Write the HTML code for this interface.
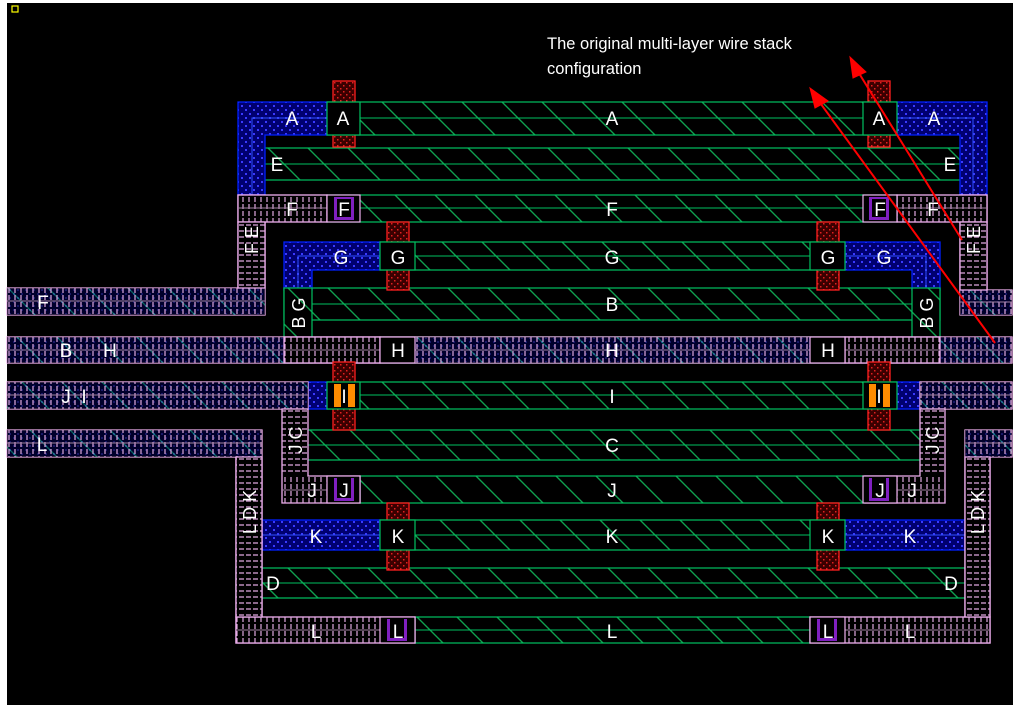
<!DOCTYPE html>
<html><head><meta charset="utf-8"><style>
html,body{margin:0;padding:0;background:#fff;width:1013px;height:715px;overflow:hidden}
svg{display:block}
text{font-family:"Liberation Sans",sans-serif;fill:#fff}
</style></head><body>
<svg width="1013" height="715" viewBox="0 0 1013 715" xmlns="http://www.w3.org/2000/svg">
<defs>
<pattern id="hat" width="40" height="40" patternUnits="userSpaceOnUse">
<rect width="40" height="40" fill="#000"/>
<path d="M0 0L40 40M-20 20L20 60M20 -20L60 20" stroke="#10a050" stroke-width="1.4"/>
</pattern>
<pattern id="blu" width="8" height="8" patternUnits="userSpaceOnUse">
<rect width="8" height="8" fill="#000070"/>
<rect x="1" y="1" width="2" height="2" fill="#3a3aff"/><rect x="5" y="5" width="2" height="2" fill="#3a3aff"/>
</pattern>
<pattern id="red" width="6" height="6" patternUnits="userSpaceOnUse">
<rect width="6" height="6" fill="#3a0000"/>
<rect x="1" y="1" width="1.5" height="1.5" fill="#e02020"/><rect x="4" y="4" width="1.5" height="1.5" fill="#e02020"/>
</pattern>
<pattern id="pnk" width="12" height="14" patternUnits="userSpaceOnUse">
<path d="M3 1v5M3 8v5M9 1v5M9 8v5" stroke="#e0a8e0" stroke-width="1.2"/>
</pattern>
<pattern id="pnkv" width="14" height="12" patternUnits="userSpaceOnUse">
<path d="M1 3h5M8 3h5M1 9h5M8 9h5" stroke="#e0a8e0" stroke-width="1.2"/>
</pattern>
</defs>
<rect x="7" y="3" width="1006" height="702" fill="#000"/>
<rect x="12" y="6" width="6" height="6" fill="none" stroke="#ff0" stroke-width="1.2"/>

<g fill="url(#hat)" stroke="#00c060" stroke-width="1.2">
<rect x="327" y="102" width="570" height="33"/>
<rect x="238" y="148" width="749" height="32"/>
<rect x="327" y="195" width="570" height="27"/>
<rect x="380" y="242" width="465" height="28"/>
<rect x="284" y="288" width="656" height="32"/>
<rect x="380" y="337" width="465" height="26"/>
<rect x="327" y="382" width="570" height="27"/>
<rect x="284" y="430" width="656" height="30"/>
<rect x="360" y="476" width="505" height="27"/>
<rect x="380" y="520" width="465" height="30"/>
<rect x="236" y="568" width="754" height="30"/>
<rect x="415" y="617" width="395" height="26"/>
</g>
<g stroke="#00c060" stroke-width="1" fill="none">
<path d="M327 118H897M238 164H987M327 208H897M380 256H845M284 304H940M327 395H897M284 445H940M380 535H845M236 583H990M415 630H810"/>
</g>

<g fill="url(#blu)" stroke="#0020ff" stroke-width="1.3">
<path d="M238 102H327V135H265V195H238Z"/>
<path d="M897 102H987V195H960V135H897Z"/>
<path d="M284 242H380V270H312V290H284Z"/>
<path d="M845 242H940V290H912V270H845Z"/>
<rect x="262" y="520" width="118" height="30"/>
<rect x="845" y="520" width="120" height="30"/>
<rect x="308" y="382" width="19" height="27"/>
<rect x="897" y="382" width="23" height="27"/>
</g>
<g stroke="#3050ff" stroke-width="1" fill="none">
<path d="M252 195V118H327M973 195V118H897M298 290V256H380M926 290V256H845M262 535H380M845 535H965"/>
</g>
<g fill="url(#hat)" stroke="#00c060" stroke-width="1.2">
<rect x="284" y="288" width="28" height="75"/>
<rect x="912" y="288" width="28" height="75"/>
</g>

<g stroke="#f0b0f0" stroke-width="1.3">
<path d="M7 288H238V195H265V315H7Z" fill="url(#blu)"/>
<path d="M1012 290H987V195H960V315H1012Z" fill="url(#blu)"/>
<rect x="7" y="337" width="1005" height="26" fill="url(#blu)"/>
<rect x="7" y="382" width="301" height="27" fill="url(#blu)"/>
<rect x="920" y="382" width="92" height="27" fill="url(#blu)"/>
<path d="M7 430H262V643H236V457H7Z" fill="url(#blu)"/>
<path d="M1012 430H965V643H990V457H1012Z" fill="url(#blu)"/>
</g>
<g opacity="0.6">
<rect x="7" y="288" width="258" height="27" fill="url(#hat)"/>
<rect x="7" y="337" width="1005" height="26" fill="url(#hat)"/>
<rect x="7" y="382" width="301" height="27" fill="url(#hat)"/>
<rect x="7" y="430" width="255" height="27" fill="url(#hat)"/>
<rect x="960" y="290" width="52" height="25" fill="url(#hat)"/>
<rect x="920" y="382" width="92" height="27" fill="url(#hat)"/>
<rect x="965" y="430" width="47" height="27" fill="url(#hat)"/>
</g>
<g stroke="#f0b0f0" stroke-width="1.3" fill="#000">
<rect x="238" y="195" width="89" height="27"/>
<rect x="897" y="195" width="90" height="27"/>
<rect x="284" y="337" width="96" height="26"/>
<rect x="845" y="337" width="95" height="26"/>
<path d="M282 409H308V476H360V503H282Z"/>
<path d="M945 409H920V476H865V503H945Z"/>
<rect x="236" y="617" width="179" height="26"/>
<rect x="810" y="617" width="180" height="26"/>
<path d="M238 222H265V288H238Z"/>
<path d="M960 222H987V290H960Z"/>
<path d="M236 457H262V617H236Z"/>
<path d="M965 457H990V617H965Z"/>
</g>
<g>
<rect x="7" y="288" width="258" height="27" fill="url(#pnk)"/>
<rect x="238" y="195" width="89" height="27" fill="url(#pnk)"/>
<rect x="897" y="195" width="90" height="27" fill="url(#pnk)"/>
<rect x="960" y="290" width="52" height="25" fill="url(#pnk)"/>
<rect x="7" y="337" width="1005" height="26" fill="url(#pnk)"/>
<rect x="7" y="382" width="301" height="27" fill="url(#pnk)"/>
<rect x="920" y="382" width="92" height="27" fill="url(#pnk)"/>
<rect x="282" y="476" width="78" height="27" fill="url(#pnk)"/>
<rect x="865" y="476" width="80" height="27" fill="url(#pnk)"/>
<rect x="7" y="430" width="255" height="27" fill="url(#pnk)"/>
<rect x="965" y="430" width="47" height="27" fill="url(#pnk)"/>
<rect x="236" y="617" width="179" height="26" fill="url(#pnk)"/>
<rect x="810" y="617" width="180" height="26" fill="url(#pnk)"/>
<rect x="238" y="222" width="27" height="66" fill="url(#pnkv)"/>
<rect x="960" y="222" width="27" height="68" fill="url(#pnkv)"/>
<rect x="282" y="409" width="26" height="67" fill="url(#pnkv)"/>
<rect x="920" y="409" width="25" height="67" fill="url(#pnkv)"/>
<rect x="236" y="457" width="26" height="160" fill="url(#pnkv)"/>
<rect x="965" y="457" width="25" height="160" fill="url(#pnkv)"/>
</g>
<g stroke="#a080a0" stroke-width="1" fill="none">
<path d="M7 301H265M7 350H1012M7 395H308M920 395H1012M7 443H262M965 443H1012M236 630H415M810 630H990M960 302H1012M238 208H327M897 208H987M282 490H360M865 490H945"/>
</g>

<g fill="url(#red)" stroke="#ff2020" stroke-width="1.3">
<rect x="333" y="81" width="22" height="66"/>
<rect x="868" y="81" width="22" height="66"/>
<rect x="387" y="222" width="22" height="68"/>
<rect x="817" y="222" width="22" height="68"/>
<rect x="333" y="362" width="22" height="68"/>
<rect x="868" y="362" width="22" height="68"/>
<rect x="387" y="503" width="22" height="67"/>
<rect x="817" y="503" width="22" height="67"/>
</g>
<g fill="#000" stroke="#00c060" stroke-width="1.2">
<rect x="327" y="102" width="33" height="33"/><rect x="863" y="102" width="34" height="33"/>
<rect x="380" y="242" width="35" height="28"/><rect x="810" y="242" width="35" height="28"/>
<rect x="380" y="520" width="35" height="30"/><rect x="810" y="520" width="35" height="30"/>
</g>
<g fill="#000" stroke="#f0b0f0" stroke-width="1.2">
<rect x="327" y="195" width="33" height="27"/><rect x="863" y="195" width="34" height="27"/>
<rect x="380" y="337" width="35" height="26"/><rect x="810" y="337" width="35" height="26"/>
<rect x="327" y="476" width="33" height="27"/><rect x="863" y="476" width="34" height="27"/>
<rect x="380" y="617" width="35" height="26"/><rect x="810" y="617" width="35" height="26"/>
</g>
<g fill="#8020c0">
<rect x="334" y="197" width="20" height="23"/><rect x="869" y="197" width="20" height="23"/>
<rect x="334" y="478" width="20" height="23"/><rect x="869" y="478" width="20" height="23"/>
<rect x="387" y="619" width="20" height="22"/><rect x="817" y="619" width="20" height="22"/>
</g>
<g fill="#000"><rect x="337" y="199" width="14" height="18"/><rect x="872" y="199" width="14" height="18"/>
<rect x="337" y="478" width="14" height="20"/><rect x="872" y="478" width="14" height="20"/>
<rect x="390" y="619" width="14" height="19"/><rect x="820" y="619" width="14" height="19"/></g>
<g fill="#000" stroke="#00c060" stroke-width="1.2">
<rect x="327" y="382" width="33" height="27"/><rect x="863" y="382" width="34" height="27"/>
</g>
<g fill="#ff8c00"><rect x="334" y="384" width="7" height="23"/><rect x="348" y="384" width="7" height="23"/>
<rect x="869" y="384" width="7" height="23"/><rect x="883" y="384" width="7" height="23"/></g>

<g font-size="19" text-anchor="middle">
<text x="292" y="125">A</text><text x="343" y="125">A</text><text x="612" y="125">A</text><text x="879" y="125">A</text><text x="934" y="125">A</text>
<text x="277" y="171">E</text><text x="950" y="171">E</text>
<text x="292" y="216">F</text><text x="344" y="216">F</text><text x="612" y="216">F</text><text x="880" y="216">F</text><text x="933" y="216">F</text>
<text x="341" y="264">G</text><text x="398" y="264">G</text><text x="612" y="264">G</text><text x="828" y="264">G</text><text x="884" y="264">G</text>
<text x="612" y="311">B</text>
<text x="43" y="309">F</text>
<text x="66" y="357">B</text><text x="110" y="357">H</text><text x="398" y="357">H</text><text x="612" y="357">H</text><text x="828" y="357">H</text>
<text x="66" y="403">J</text><text x="84" y="403">I</text><text x="344" y="403">I</text><text x="612" y="403">I</text><text x="879" y="403">I</text>
<text x="42" y="451">L</text>
<text x="612" y="452">C</text>
<text x="312" y="497">J</text><text x="344" y="497">J</text><text x="612" y="497">J</text><text x="880" y="497">J</text><text x="912" y="497">J</text>
<text x="316" y="543">K</text><text x="398" y="543">K</text><text x="612" y="543">K</text><text x="828" y="543">K</text><text x="910" y="543">K</text>
<text x="273" y="590">D</text><text x="951" y="590">D</text>
<text x="316" y="638">L</text><text x="398" y="638">L</text><text x="612" y="638">L</text><text x="828" y="638">L</text><text x="910" y="638">L</text>
</g>
<g font-size="18" text-anchor="middle">
<text transform="translate(258,240) rotate(-90)">F E</text>
<text transform="translate(980,240) rotate(-90)">F E</text>
<text transform="translate(305,313) rotate(-90)">B G</text>
<text transform="translate(933,313) rotate(-90)">B G</text>
<text transform="translate(302,440) rotate(-90)">J C</text>
<text transform="translate(939,440) rotate(-90)">J C</text>
<text transform="translate(256,512) rotate(-90)">L D K</text>
<text transform="translate(984,512) rotate(-90)">L D K</text>
</g>

<text x="547" y="49" font-size="16.5">The original multi-layer wire stack</text>
<text x="547" y="74" font-size="16.5">configuration</text>
<g stroke="#ff0000" stroke-width="2" fill="#f00">
<line x1="995" y1="343" x2="818" y2="100"/>
<line x1="962" y1="240" x2="857" y2="70"/>
<polygon points="810,88 828,101 815,108" stroke-width="1"/>
<polygon points="850,57 866,72 853,78" stroke-width="1"/>
</g>
</svg>
</body></html>
